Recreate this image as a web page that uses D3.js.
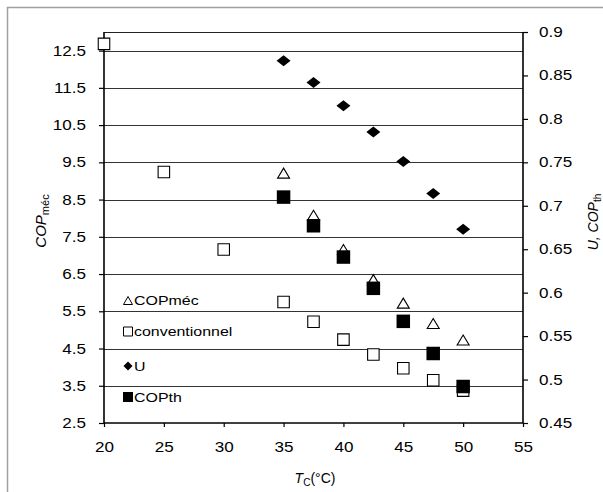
<!DOCTYPE html>
<html><head><meta charset="utf-8">
<script src="https://cdn.jsdelivr.net/npm/d3@7"></script>
<style>body{margin:0;background:#fff}svg{display:block}text{font-family:"Liberation Sans",Arial,sans-serif;fill:#000}</style>
</head><body><svg id="c" width="603" height="492"></svg>
<script>
const tc = [20, 25, 30, 35, 37.5, 40, 42.5, 45, 47.5, 50];
const conventionnel = [12.68, 9.24, 7.16, 5.75, 5.22, 4.74, 4.34, 3.97, 3.65, 3.37];
const tcExp = [35, 37.5, 40, 42.5, 45, 47.5, 50];
const copMec = [9.21, 8.08, 7.16, 6.35, 5.72, 5.17, 4.73];
const U = [0.867, 0.842, 0.815, 0.785, 0.751, 0.714, 0.673];
const copTh = [0.710, 0.677, 0.641, 0.605, 0.567, 0.530, 0.492];
const xTicks = [20, 25, 30, 35, 40, 45, 50, 55];
const leftTicks = [2.5, 3.5, 4.5, 5.5, 6.5, 7.5, 8.5, 9.5, 10.5, 11.5, 12.5];
const rightTicks = ["0.45", "0.5", "0.55", "0.6", "0.65", "0.7", "0.75", "0.8", "0.85", "0.9"];
const legendItems = ["COPméc", "conventionnel", "U", "COPth"];

const svg = d3.select("#c");
const L = 104, R = 523, T = 32, B = 423;
const x = d3.scaleLinear().domain([20, 55]).range([L, R]);
const yL = d3.scaleLinear().domain([2.5, 13]).range([B, T]);
const yR = d3.scaleLinear().domain([0.45, 0.9]).range([B, T]);

function stretch(sel, k) {
  sel.each(function () {
    const w = this.getComputedTextLength();
    d3.select(this).attr("textLength", w * k).attr("lengthAdjust", "spacingAndGlyphs");
  });
}

// outer chart border
svg.append("rect").attr("x", 7.5).attr("y", 7.5).attr("width", 700).attr("height", 600)
  .attr("fill", "none").attr("stroke", "#a0a0a0").attr("stroke-width", 1.5);

// gridlines
svg.append("g").selectAll("line").data(leftTicks.slice(1)).join("line")
  .attr("x1", L).attr("x2", R).attr("y1", d => Math.round(yL(d)) + 0.5).attr("y2", d => Math.round(yL(d)) + 0.5)
  .attr("stroke", "#333").attr("stroke-width", 1.2);
// top border of plot
svg.append("line").attr("x1", L).attr("x2", R).attr("y1", T + 0.5).attr("y2", T + 0.5).attr("stroke", "#222").attr("stroke-width", 1.2);

const fs = "14px";
// axes
const axL = d3.axisLeft(yL).tickValues(leftTicks).tickFormat(d3.format(".1f")).tickSize(5).tickPadding(13);
const gL = svg.append("g").attr("transform", `translate(${L},0)`).call(axL);
const axR = d3.axisRight(yR).tickValues(rightTicks.map(Number)).tickFormat((d, i) => rightTicks[i]).tickSize(5).tickPadding(11);
const gR = svg.append("g").attr("transform", `translate(${R},0)`).call(axR);
const axB = d3.axisBottom(x).tickValues(xTicks).tickSize(4).tickPadding(15);
const gB = svg.append("g").attr("transform", `translate(0,${B})`).call(axB);
[gL, gR, gB].forEach(g => {
  g.selectAll("path").attr("stroke", "#000").attr("stroke-width", 1.6);
  g.selectAll("line").attr("stroke", "#000").attr("stroke-width", 1.2);
  g.selectAll("text").attr("font-size", fs).attr("font-family", '"Liberation Sans",Arial,sans-serif').attr("fill", "#000");
  stretch(g.selectAll("text"), 1.22);
});
gL.select(".domain").attr("d", `M0,${B}V${T}`);
gR.select(".domain").attr("d", `M0,${B}V${T}`);
gB.select(".domain").attr("d", `M${L},0H${R}`);

// markers
const sq = s => `M${-s/2},${-s/2}h${s}v${s}h${-s}Z`;
const tri = (w, h) => `M0,${-h/2}L${w/2},${h/2}L${-w/2},${h/2}Z`;
const dia = (w, h) => `M0,${-h/2}L${w/2},0L0,${h/2}L${-w/2},0Z`;

svg.append("g").selectAll("path").data(tc.map((t, i) => [t, conventionnel[i]])).join("path")
  .attr("transform", d => `translate(${x(d[0])},${yL(d[1])})`).attr("d", sq(11.5))
  .attr("fill", "#fff").attr("stroke", "#000").attr("stroke-width", 1.1);
svg.append("g").selectAll("path").data(tcExp.map((t, i) => [t, copMec[i]])).join("path")
  .attr("transform", d => `translate(${x(d[0])},${yL(d[1])})`).attr("d", tri(12, 10))
  .attr("fill", "#fff").attr("stroke", "#000").attr("stroke-width", 1.1);
svg.append("g").selectAll("path").data(tcExp.map((t, i) => [t, copTh[i]])).join("path")
  .attr("transform", d => `translate(${x(d[0])},${yR(d[1])})`).attr("d", sq(13.5))
  .attr("fill", "#000");
svg.append("g").selectAll("path").data(tcExp.map((t, i) => [t, U[i]])).join("path")
  .attr("transform", d => `translate(${x(d[0])},${yR(d[1])})`).attr("d", dia(14, 11))
  .attr("fill", "#000");

// legend
const legY = [300.5, 331.5, 366, 397];
const legShapes = [
  g => g.append("path").attr("d", tri(9, 8)).attr("fill", "#fff").attr("stroke", "#000").attr("stroke-width", 1),
  g => g.append("path").attr("d", sq(9)).attr("fill", "#fff").attr("stroke", "#000").attr("stroke-width", 1),
  g => g.append("path").attr("d", dia(9, 9)).attr("fill", "#000"),
  g => g.append("path").attr("d", sq(10)).attr("fill", "#000")
];
legendItems.forEach((name, i) => {
  const g = svg.append("g").attr("transform", `translate(128,${legY[i]})`);
  legShapes[i](g);
  const t = g.append("text").attr("x", 6).attr("y", 0).attr("dy", "0.35em").attr("font-size", "13.5px").text(name);
  stretch(t, 1.18);
});

// axis titles
const tl = svg.append("text").attr("transform", "translate(46,221) rotate(-90)").attr("text-anchor", "middle").attr("font-size", "15px");
tl.append("tspan").attr("font-style", "italic").text("COP");
tl.append("tspan").attr("font-size", "11px").attr("dy", 3).text("méc");

const tr = svg.append("text").attr("transform", "translate(598,222) rotate(-90)").attr("text-anchor", "middle").attr("font-size", "14px");
tr.append("tspan").attr("font-style", "italic").text("U, COP");
tr.append("tspan").attr("font-size", "10px").attr("dy", 3).text("th");

const tb = svg.append("text").attr("x", 315).attr("y", 483).attr("text-anchor", "middle").attr("font-size", "14px");
tb.append("tspan").attr("font-style", "italic").text("T");
tb.append("tspan").attr("font-size", "10px").attr("dy", 3).text("C");
tb.append("tspan").attr("dy", -3).text("(°C)");
</script></body></html>
